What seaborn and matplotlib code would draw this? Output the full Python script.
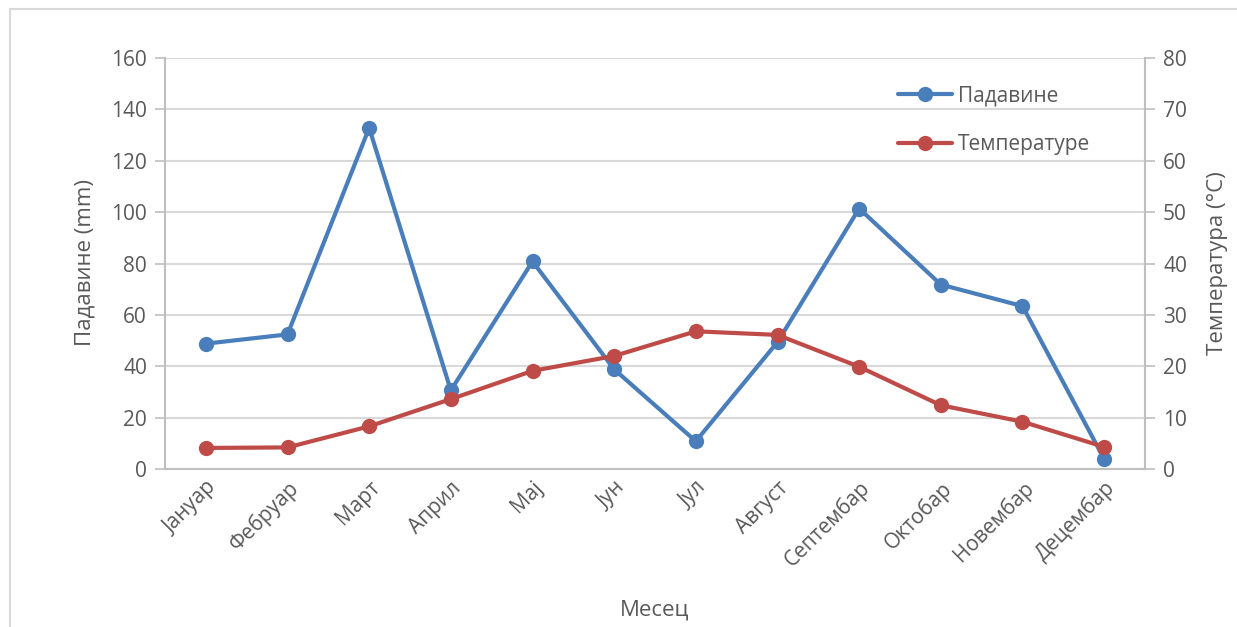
import matplotlib
matplotlib.use("Agg")
import matplotlib.pyplot as plt
import seaborn as sns
import pandas as pd
from matplotlib.patches import Rectangle
from matplotlib.lines import Line2D

months = ["Јануар", "Фебруар", "Март", "Април", "Мај", "Јун", "Јул",
          "Август", "Септембар", "Октобар", "Новембар", "Децембар"]
precip = [48.8, 52.4, 132.8, 30.6, 80.8, 38.8, 10.8, 49.4, 101.4, 71.8, 63.4, 3.9]
temp = [4.1, 4.2, 8.3, 13.6, 19.1, 22.0, 26.8, 26.1, 19.9, 12.4, 9.2, 4.3]

sns.set_theme(style="white")
plt.rcParams['font.family'] = ['Open Sans', 'DejaVu Sans']

df = pd.DataFrame({"x": range(len(months)), "month": months,
                   "precip": precip, "temp": temp})

blue = "#4a7ebb"
red = "#be4b48"
gray_txt = "#595959"
grid_c = "#d9d9d9"

W, H = 1237, 627
fig = plt.figure(figsize=(W/100, H/100), dpi=100)
ax = fig.add_axes([165/W, 1 - 469/H, (1145-165)/W, (469-58)/H])
ax2 = ax.twinx()

sns.lineplot(data=df, x="x", y="precip", ax=ax, color=blue, linewidth=3,
             marker="o", markersize=11, markeredgewidth=0, zorder=3)
sns.lineplot(data=df, x="x", y="temp", ax=ax2, color=red, linewidth=3,
             marker="o", markersize=11, markeredgewidth=0, zorder=3)

ax.set_xlim(-0.5, 11.5)
ax.set_ylim(0, 160)
ax2.set_ylim(0, 80)
ax.set_yticks(range(0, 161, 20))
ax2.set_yticks(range(0, 81, 10))
ax.set_xticks(range(12))
ax.set_xticklabels(months, rotation=45, ha="right", rotation_mode="anchor",
                   fontsize=15, color=gray_txt)
ax.tick_params(axis="y", labelsize=15, colors=gray_txt, length=7, width=1.2,
               color="#bfbfbf", left=True, pad=6)
ax.tick_params(axis="x", length=0, pad=6)
ax2.tick_params(axis="y", labelsize=15, colors=gray_txt, length=7, width=1.2,
                color="#bfbfbf", right=True, pad=6)
for t in ax.get_yticklabels() + ax2.get_yticklabels():
    t.set_color(gray_txt)

ax.grid(axis="y", color=grid_c, linewidth=1.5)
ax.set_axisbelow(True)
for s in ["top", "right"]:
    ax.spines[s].set_visible(False)
for s in ["top", "left", "bottom"]:
    ax2.spines[s].set_visible(False)
for sp in [ax.spines["left"], ax.spines["bottom"], ax2.spines["right"]]:
    sp.set_color("#bfbfbf")
    sp.set_linewidth(1.5)

ax.set_xlabel("")
ax.set_ylabel("")
ax2.set_ylabel("")
fig.text(655/W, 1 - 610/H, "Месец", fontsize=16, color=gray_txt,
         ha="center", va="center")
fig.text(85/W, 1 - 263/H, "Падавине (mm)", fontsize=16, color=gray_txt,
         ha="center", va="center", rotation=90)
fig.text(1217/W, 1 - 263/H, "Температура (°C)", fontsize=16, color=gray_txt,
         ha="center", va="center", rotation=90)

handles = [Line2D([], [], color=blue, lw=3, marker="o", markersize=11, markeredgewidth=0),
           Line2D([], [], color=red, lw=3, marker="o", markersize=11, markeredgewidth=0)]
leg = ax2.legend(handles, ["Падавине", "Температуре"], loc="upper left",
                 bbox_to_anchor=((879-165)/980, (469-67)/411), frameon=False,
                 fontsize=15, labelspacing=1.3, handlelength=2.6, handletextpad=0.3)
for t in leg.get_texts():
    t.set_color(gray_txt)

fig.patches.append(Rectangle((10/W, -0.05), 1.1, 1.05 - 9/H,
                             transform=fig.transFigure, fill=False,
                             edgecolor="#d9d9d9", linewidth=1.5))

fig.savefig("out.png", dpi=100, facecolor="white")
